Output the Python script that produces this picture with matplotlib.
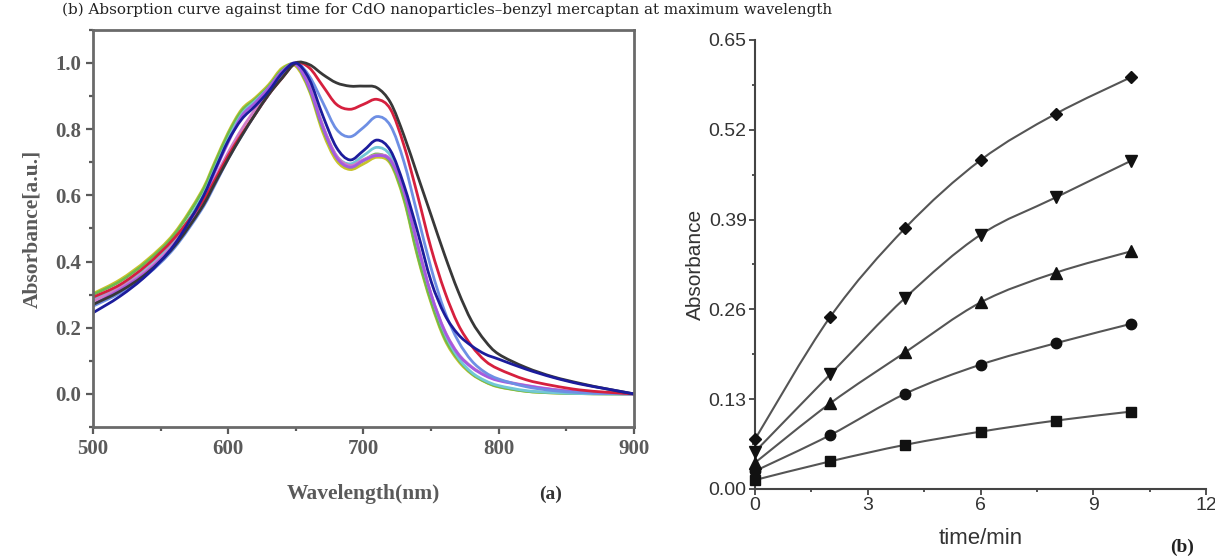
import numpy as np
import matplotlib
matplotlib.use("Agg")
import matplotlib.pyplot as plt
from matplotlib.path import Path
from matplotlib.patches import PathPatch
from matplotlib.ticker import MultipleLocator, FormatStrFormatter

# ---------------- data: panel (a), spectra ----------------
wavelength = [500, 520, 540, 560, 580, 590, 600, 610, 620, 630, 640, 650, 660, 670,
              680, 690, 700, 710, 720, 730, 740, 750, 760, 770, 780, 790, 800, 820,
              840, 860, 880, 900]

abs_olive = [0.303, 0.345, 0.405, 0.485, 0.610, 0.700, 0.790, 0.860, 0.895, 0.935, 0.985, 0.990,
             0.915, 0.790, 0.705, 0.678, 0.695, 0.715, 0.695, 0.585, 0.415, 0.275, 0.165, 0.100,
             0.060, 0.036, 0.021, 0.008, 0.003, 0.001, 0.000, 0.000]
abs_green = [0.300, 0.340, 0.400, 0.480, 0.605, 0.695, 0.785, 0.855, 0.890, 0.930, 0.980, 0.995,
             0.920, 0.800, 0.715, 0.685, 0.705, 0.725, 0.700, 0.590, 0.420, 0.280, 0.170, 0.105,
             0.062, 0.037, 0.022, 0.008, 0.003, 0.001, 0.000, 0.000]
abs_cyan = [0.285, 0.325, 0.385, 0.465, 0.590, 0.680, 0.770, 0.845, 0.885, 0.925, 0.975, 0.995,
            0.930, 0.810, 0.720, 0.695, 0.720, 0.745, 0.720, 0.620, 0.450, 0.300, 0.185, 0.110,
            0.065, 0.040, 0.025, 0.010, 0.004, 0.001, 0.000, 0.000]
abs_pink = [0.280, 0.320, 0.375, 0.455, 0.570, 0.650, 0.730, 0.800, 0.860, 0.910, 0.970, 0.998,
            0.930, 0.810, 0.720, 0.690, 0.708, 0.722, 0.708, 0.612, 0.452, 0.302, 0.192, 0.122,
            0.082, 0.057, 0.042, 0.026, 0.014, 0.006, 0.002, 0.000]
abs_purple = [0.270, 0.315, 0.370, 0.450, 0.575, 0.670, 0.760, 0.840, 0.880, 0.925, 0.975, 0.995,
              0.925, 0.805, 0.715, 0.685, 0.705, 0.720, 0.705, 0.610, 0.450, 0.300, 0.190, 0.120,
              0.080, 0.055, 0.040, 0.025, 0.013, 0.006, 0.002, 0.000]
abs_lightblue = [0.265, 0.305, 0.360, 0.440, 0.555, 0.630, 0.710, 0.780, 0.845, 0.905, 0.960, 1.000,
                 0.960, 0.880, 0.800, 0.777, 0.805, 0.838, 0.810, 0.700, 0.540, 0.380, 0.250, 0.160,
                 0.100, 0.065, 0.045, 0.022, 0.010, 0.004, 0.001, 0.000]
abs_red = [0.292, 0.330, 0.390, 0.470, 0.575, 0.645, 0.720, 0.785, 0.845, 0.905, 0.955, 1.000,
           0.985, 0.930, 0.875, 0.860, 0.875, 0.890, 0.860, 0.750, 0.600, 0.440, 0.310, 0.210,
           0.145, 0.100, 0.075, 0.043, 0.025, 0.012, 0.005, 0.000]
abs_black = [0.270, 0.310, 0.365, 0.445, 0.560, 0.635, 0.710, 0.780, 0.845, 0.905, 0.955, 1.000,
             0.995, 0.965, 0.940, 0.930, 0.930, 0.925, 0.880, 0.780, 0.660, 0.540, 0.420, 0.310,
             0.220, 0.160, 0.120, 0.080, 0.052, 0.032, 0.015, 0.000]
abs_navy = [0.245, 0.295, 0.360, 0.450, 0.585, 0.675, 0.765, 0.830, 0.870, 0.915, 0.970, 1.000,
            0.950, 0.840, 0.745, 0.707, 0.735, 0.767, 0.735, 0.630, 0.490, 0.340, 0.240, 0.180,
            0.145, 0.120, 0.105, 0.075, 0.050, 0.030, 0.015, 0.000]

spectra = [
    (abs_olive, "#c8c22c"),
    (abs_green, "#6dbb4c"),
    (abs_cyan, "#72c8d6"),
    (abs_pink, "#d27cc8"),
    (abs_purple, "#a55ae0"),
    (abs_lightblue, "#6e8fe4"),
    (abs_red, "#d6203e"),
    (abs_black, "#383838"),
    (abs_navy, "#1c1c9c"),
]

# ---------------- data: panel (b), absorbance vs time ----------------
time_min = [0, 2, 4, 6, 8, 10]
abs_diamond = [0.072, 0.249, 0.378, 0.476, 0.543, 0.596]
abs_down = [0.054, 0.166, 0.277, 0.368, 0.422, 0.475]
abs_up = [0.038, 0.124, 0.198, 0.270, 0.313, 0.344]
abs_circle = [0.026, 0.078, 0.138, 0.180, 0.211, 0.239]
abs_square = [0.013, 0.040, 0.064, 0.083, 0.099, 0.112]

kinetics = [
    (abs_diamond, "D", 6.5),
    (abs_down, "v", 8),
    (abs_up, "^", 8),
    (abs_circle, "o", 7.5),
    (abs_square, "s", 6.5),
]

TITLE = "(b) Absorption curve against time for CdO nanoparticles\u2013benzyl mercaptan at maximum wavelength"


def smooth_line(ax, x, y, **kw):
    # Catmull-Rom style cubic Bezier through the data points
    x = np.asarray(x, float)
    y = np.asarray(y, float)
    n = len(x)
    verts = [(x[0], y[0])]
    codes = [Path.MOVETO]
    for i in range(n - 1):
        x0, y0 = (x[i - 1], y[i - 1]) if i > 0 else (x[i], y[i])
        x3, y3 = (x[i + 2], y[i + 2]) if i + 2 < n else (x[i + 1], y[i + 1])
        c1 = (x[i] + (x[i + 1] - x0) / 6, y[i] + (y[i + 1] - y0) / 6)
        c2 = (x[i + 1] - (x3 - x[i]) / 6, y[i + 1] - (y3 - y[i]) / 6)
        verts += [c1, c2, (x[i + 1], y[i + 1])]
        codes += [Path.CURVE4] * 3
    patch = PathPatch(Path(verts, codes), facecolor="none", **kw)
    ax.add_patch(patch)
    return patch


fig = plt.figure(figsize=(12.15, 5.57), dpi=100)

# ================= panel (a) =================
gray = "#5a5a5a"
serif_bold = dict(family="Liberation Serif", weight="bold", color=gray)

ax1 = fig.add_axes([0.0765, 0.2334, 0.4453, 0.7130])
for vals, col in spectra:
    smooth_line(ax1, wavelength, vals, edgecolor=col, linewidth=2.0, capstyle="round")

ax1.set_xlim(500, 900)
ax1.set_ylim(-0.1, 1.1)
ax1.xaxis.set_major_locator(MultipleLocator(100))
ax1.xaxis.set_minor_locator(MultipleLocator(50))
ax1.yaxis.set_major_locator(MultipleLocator(0.2))
ax1.yaxis.set_minor_locator(MultipleLocator(0.1))
ax1.set_yticks([0.0, 0.2, 0.4, 0.6, 0.8, 1.0])
ax1.yaxis.set_major_formatter(FormatStrFormatter("%.1f"))
ax1.tick_params(which="both", direction="out", color=gray, width=1.6,
                top=False, right=False)
ax1.tick_params(which="major", length=5)
ax1.tick_params(which="minor", length=3)
for lab in ax1.get_xticklabels() + ax1.get_yticklabels():
    lab.set_fontproperties(dict(family="Liberation Serif", weight="bold", size=15))
    lab.set_color(gray)
for sp in ax1.spines.values():
    sp.set_color("#6a6a6a")
    sp.set_linewidth(2.0)
ax1.set_xlabel("Wavelength(nm)", fontsize=15.5, labelpad=18, **serif_bold)
ax1.set_ylabel("Absorbance[a.u.]", fontsize=15.5, labelpad=9, **serif_bold)
fig.text(0.453, 0.113, "(a)", fontsize=14, ha="center", va="center",
         family="Liberation Serif", weight="bold", color="#333333")

# ================= panel (b) =================
ax2 = fig.add_axes([0.6214, 0.1221, 0.3712, 0.8061])
for vals, mk, ms in kinetics:
    smooth_line(ax2, time_min, vals, edgecolor="#555555", linewidth=1.5)
    ax2.plot(time_min, vals, linestyle="none", marker=mk, markersize=ms,
             color="#111111", clip_on=False, zorder=3)

ax2.set_xlim(0, 12)
ax2.set_ylim(0, 0.65)
ax2.set_xticks([0, 3, 6, 9, 12])
ax2.xaxis.set_minor_locator(MultipleLocator(1.5))
ax2.set_yticks([0.00, 0.13, 0.26, 0.39, 0.52, 0.65])
ax2.yaxis.set_minor_locator(MultipleLocator(0.065))
ax2.yaxis.set_major_formatter(FormatStrFormatter("%.2f"))
ax2.spines["top"].set_visible(False)
ax2.spines["right"].set_visible(False)
for sp in ("left", "bottom"):
    ax2.spines[sp].set_color("#444444")
    ax2.spines[sp].set_linewidth(1.5)
ax2.tick_params(which="both", direction="out", color="#444444", width=1.3,
                labelsize=14, labelcolor="#333333", pad=2)
ax2.tick_params(which="major", length=4)
ax2.tick_params(which="minor", length=2.5)
for lab in ax2.get_xticklabels() + ax2.get_yticklabels():
    lab.set_family("Liberation Sans")
ax2.set_xlabel("time/min", fontsize=16, family="Liberation Sans",
               color="#333333", labelpad=10)
ax2.set_ylabel("Absorbance", fontsize=15, family="Liberation Sans",
               color="#333333", labelpad=3)
fig.text(0.973, 0.017, "(b)", fontsize=14, ha="center", va="center",
         family="Liberation Serif", weight="bold", color="#222222")

fig.text(0.051, 0.982, TITLE, fontsize=10.9, ha="left", va="center",
         family="DejaVu Serif", color="#222222")

fig.savefig("out.png", dpi=100)
